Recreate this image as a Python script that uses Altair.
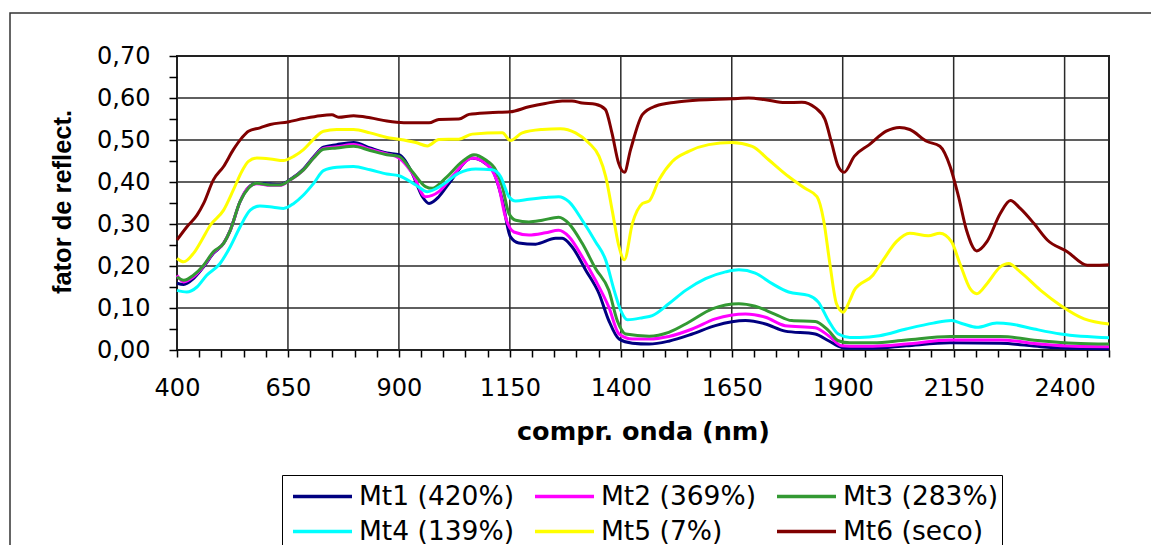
import altair as alt
import pandas as pd

# ---- data ----
series_names = ["Mt1 (420%)", "Mt2 (369%)", "Mt3 (283%)", "Mt4 (139%)", "Mt5 (7%)", "Mt6 (seco)"]
series_colors = ["#000080", "#FF00FF", "#339933", "#00FFFF", "#FFFF00", "#800000"]

wl1 = [400, 415, 437, 460, 482, 505, 520, 542, 561, 580, 610, 632, 655, 685, 708, 730, 760, 798, 835, 873,
       900, 930, 953, 968, 990, 1013, 1065, 1110, 1133, 1151, 1170, 1208, 1253, 1268, 1290, 1321, 1351, 1373, 1396, 1426,
       1464, 1508, 1561, 1613, 1681, 1726, 1770, 1838, 1868, 1898, 1916, 1968, 2043, 2142, 2255, 2346, 2421, 2500]
r1 = [0.159, 0.156, 0.170, 0.198, 0.230, 0.254, 0.285, 0.353, 0.387, 0.397, 0.395, 0.394, 0.406, 0.431, 0.460, 0.483, 0.489, 0.494, 0.481, 0.469,
      0.465, 0.421, 0.365, 0.349, 0.365, 0.397, 0.457, 0.429, 0.357, 0.270, 0.255, 0.252, 0.266, 0.266, 0.246, 0.190, 0.134, 0.070, 0.026, 0.016,
      0.014, 0.021, 0.038, 0.058, 0.070, 0.062, 0.045, 0.038, 0.022, 0.006, 0.004, 0.004, 0.010, 0.017, 0.016, 0.008, 0.004, 0.003]

wl2 = [400, 415, 437, 460, 482, 505, 520, 542, 561, 580, 610, 632, 655, 685, 708, 730, 760, 798, 835, 873,
       900, 930, 960, 990, 1020, 1065, 1103, 1125, 1140, 1159, 1193, 1230, 1260, 1283, 1313, 1343, 1373, 1396, 1426, 1464,
       1508, 1561, 1613, 1681, 1726, 1770, 1838, 1868, 1898, 1916, 1968, 2043, 2142, 2255, 2346, 2421, 2500]
r2 = [0.178, 0.162, 0.174, 0.200, 0.232, 0.254, 0.285, 0.353, 0.387, 0.396, 0.392, 0.392, 0.405, 0.429, 0.458, 0.480, 0.484, 0.489, 0.478, 0.467,
      0.457, 0.421, 0.365, 0.377, 0.413, 0.457, 0.437, 0.389, 0.317, 0.281, 0.274, 0.279, 0.285, 0.270, 0.222, 0.166, 0.102, 0.038, 0.026, 0.026,
      0.032, 0.050, 0.074, 0.086, 0.078, 0.058, 0.053, 0.034, 0.010, 0.009, 0.009, 0.014, 0.024, 0.024, 0.014, 0.009, 0.008]

wl3 = [400, 415, 437, 460, 482, 505, 520, 542, 561, 580, 610, 632, 655, 685, 708, 730, 760, 798, 835, 873,
       900, 930, 960, 975, 1005, 1043, 1069, 1095, 1118, 1133, 1148, 1163, 1193, 1223, 1260, 1283, 1313, 1343, 1373, 1392,
       1411, 1464, 1508, 1553, 1606, 1666, 1703, 1748, 1785, 1838, 1868, 1890, 1916, 1968, 2043, 2142, 2255, 2346, 2421, 2500]
r3 = [0.174, 0.166, 0.178, 0.202, 0.234, 0.254, 0.285, 0.353, 0.385, 0.397, 0.393, 0.393, 0.405, 0.429, 0.457, 0.478, 0.481, 0.485, 0.475, 0.465,
      0.461, 0.425, 0.389, 0.385, 0.409, 0.449, 0.465, 0.453, 0.429, 0.389, 0.325, 0.309, 0.305, 0.309, 0.316, 0.301, 0.254, 0.194, 0.142, 0.070,
      0.038, 0.033, 0.042, 0.066, 0.098, 0.110, 0.104, 0.085, 0.070, 0.068, 0.046, 0.022, 0.017, 0.017, 0.024, 0.032, 0.032, 0.022, 0.016, 0.014]

wl4 = [400, 422, 445, 467, 497, 520, 542, 565, 587, 617, 640, 663, 685, 708, 730, 760, 798, 835, 873, 900,
       938, 964, 998, 1035, 1073, 1110, 1129, 1148, 1163, 1193, 1230, 1260, 1283, 1313, 1343, 1366, 1385, 1400, 1415, 1449,
       1471, 1508, 1546, 1591, 1636, 1666, 1703, 1741, 1778, 1823, 1845, 1868, 1890, 1916, 1938, 1983, 2043, 2104, 2145, 2172,
       2202, 2247, 2278, 2331, 2391, 2500]
r4 = [0.142, 0.138, 0.150, 0.178, 0.206, 0.246, 0.293, 0.333, 0.343, 0.340, 0.337, 0.349, 0.369, 0.397, 0.427, 0.435, 0.437, 0.429, 0.419, 0.415,
      0.393, 0.377, 0.393, 0.421, 0.431, 0.429, 0.413, 0.365, 0.355, 0.359, 0.363, 0.365, 0.353, 0.309, 0.258, 0.214, 0.142, 0.094, 0.072, 0.077,
      0.082, 0.110, 0.142, 0.170, 0.186, 0.191, 0.183, 0.158, 0.138, 0.130, 0.114, 0.070, 0.038, 0.030, 0.030, 0.034, 0.050, 0.064, 0.070, 0.062,
      0.054, 0.064, 0.062, 0.050, 0.038, 0.029]

wl5 = [400, 415, 437, 456, 475, 505, 527, 546, 561, 580, 610, 640, 663, 685, 708, 730, 760, 798, 835, 873,
       900, 938, 964, 990, 1035, 1065, 1133, 1151, 1178, 1223, 1264, 1298, 1328, 1351, 1366, 1381, 1395, 1408, 1426, 1449,
       1464, 1486, 1516, 1553, 1598, 1650, 1696, 1733, 1778, 1815, 1842, 1857, 1871, 1886, 1901, 1916, 1926, 1968, 1991, 2021,
       2051, 2093, 2119, 2145, 2164, 2187, 2202, 2225, 2255, 2274, 2300, 2346, 2391, 2444, 2500]
r5 = [0.218, 0.210, 0.230, 0.262, 0.297, 0.333, 0.381, 0.425, 0.449, 0.457, 0.455, 0.451, 0.461, 0.477, 0.502, 0.521, 0.525, 0.525, 0.517, 0.506,
      0.502, 0.494, 0.486, 0.501, 0.502, 0.514, 0.517, 0.499, 0.517, 0.525, 0.527, 0.517, 0.493, 0.461, 0.413, 0.330, 0.250, 0.215, 0.301, 0.349,
      0.355, 0.405, 0.449, 0.473, 0.489, 0.494, 0.485, 0.453, 0.413, 0.385, 0.365, 0.309, 0.206, 0.110, 0.090, 0.118, 0.142, 0.178, 0.214, 0.258,
      0.278, 0.272, 0.278, 0.258, 0.206, 0.146, 0.134, 0.158, 0.198, 0.206, 0.186, 0.142, 0.106, 0.074, 0.062]

wl6 = [400, 422, 445, 460, 482, 505, 527, 546, 561, 587, 610, 650, 685, 723, 749, 764, 798, 835, 873, 911,
       938, 968, 990, 1035, 1058, 1103, 1150, 1193, 1230, 1268, 1290, 1313, 1343, 1365, 1380, 1395, 1408, 1422, 1449, 1479,
       1523, 1576, 1650, 1688, 1726, 1770, 1808, 1838, 1860, 1875, 1890, 1903, 1926, 1960, 1998, 2028, 2051, 2089, 2119, 2142,
       2161, 2179, 2202, 2225, 2255, 2278, 2300, 2331, 2361, 2406, 2451, 2474, 2500]
r6 = [0.262, 0.293, 0.321, 0.349, 0.405, 0.437, 0.477, 0.505, 0.521, 0.529, 0.537, 0.543, 0.551, 0.558, 0.560, 0.554, 0.558, 0.553, 0.545, 0.541,
      0.541, 0.541, 0.549, 0.550, 0.561, 0.565, 0.567, 0.579, 0.587, 0.593, 0.593, 0.588, 0.585, 0.573, 0.517, 0.445, 0.423, 0.477, 0.561, 0.581,
      0.590, 0.595, 0.598, 0.600, 0.596, 0.589, 0.590, 0.577, 0.549, 0.493, 0.437, 0.423, 0.461, 0.489, 0.521, 0.530, 0.525, 0.497, 0.485, 0.437,
      0.365, 0.285, 0.236, 0.258, 0.325, 0.356, 0.337, 0.301, 0.262, 0.234, 0.202, 0.202, 0.203]

x_ticks = [400 + 50 * i for i in range(43)]
y_ticks = [round(0.05 * i, 2) for i in range(15)]
x_grid = [650, 900, 1150, 1400, 1650, 1900, 2150, 2400]
y_grid = [0.1, 0.2, 0.3, 0.4, 0.5, 0.6]

# ---- build tables ----
rows = []
for name, wl, rv in zip(series_names, [wl1, wl2, wl3, wl4, wl5, wl6], [r1, r2, r3, r4, r5, r6]):
    for w, v in zip(wl, rv):
        rows.append({"serie": name, "wl": w, "r": v})
df = pd.DataFrame(rows)
gx_df = pd.DataFrame({"gx": x_grid})
gy_df = pd.DataFrame({"gy": y_grid})

TICK_FONT = "DejaVu Sans"
xscale = alt.Scale(domain=[400, 2500], nice=False, zero=False)
yscale = alt.Scale(domain=[0, 0.7], nice=False, zero=True)

xaxis = alt.Axis(
    values=x_ticks, grid=False, domain=False,
    labelExpr="((datum.value - 400) % 250 == 0) ? format(datum.value, 'd') : ''",
    labelFont=TICK_FONT, labelFontSize=24, labelColor="black",
    labelBaseline="alphabetic", labelPadding=38, labelFlush=False, labelOverlap=False,
    tickSize=7, tickColor="black", tickWidth=1.5,
    title="compr. onda (nm)", titleFont=TICK_FONT, titleFontSize=25.5, titleFontWeight="bold",
    titleColor="black", titleX=466, titleY=89, titleBaseline="alphabetic", titleAlign="center",
)
yaxis = alt.Axis(
    values=y_ticks, grid=False, domain=False,
    labelExpr="(round(datum.value * 100) % 10 == 0) ? replace(format(datum.value, '.2f'), '.', ',') : ''",
    labelFont=TICK_FONT, labelFontSize=24, labelColor="black", labelPadding=19, labelOverlap=False,
    labelFlush=False,
    tickSize=8, tickColor="black", tickWidth=1.5,
    title="fator de reflect.", titleFont="Liberation Sans", titleFontSize=25.5, titleFontWeight="bold",
    titleColor="black", titleX=-107, titleY=145.5, titleBaseline="alphabetic", titleAlign="center",
)

frame = alt.Chart(alt.Data(values=[{"k": 1}])).mark_rect(
    fillOpacity=0, stroke="#333333", strokeWidth=1.5, clip=False
).encode(x=alt.value(-167), x2=alt.value(1100), y=alt.value(-43), y2=alt.value(700))

vgrid = alt.Chart(gx_df).mark_rule(color="#2a2a2a", strokeWidth=1.5).encode(
    x=alt.X("gx:Q", scale=xscale, axis=xaxis)
)
hgrid = alt.Chart(gy_df).mark_rule(color="#2a2a2a", strokeWidth=1.5).encode(
    y=alt.Y("gy:Q", scale=yscale, axis=yaxis)
)

lines = alt.Chart(df).mark_line(strokeWidth=3, interpolate="monotone").encode(
    x=alt.X("wl:Q", scale=xscale, axis=xaxis),
    y=alt.Y("r:Q", scale=yscale, axis=yaxis),
    color=alt.Color(
        "serie:N",
        scale=alt.Scale(domain=series_names, range=series_colors),
        sort=series_names,
        legend=alt.Legend(
            orient="none", legendX=105, legendY=419, columns=3, direction="horizontal", title=None,
            symbolType="stroke", symbolSize=3481, symbolStrokeWidth=3.5, symbolOffset=5,
            labelOffset=5, labelFont=TICK_FONT, labelFontSize=26.5, labelColor="black", labelLimit=400,
            strokeColor="black", fillColor="white", padding=4, columnPadding=14, rowPadding=0,
            clipHeight=35,
        ),
    ),
)

chart = alt.layer(frame, vgrid, hgrid, lines).properties(
    width=932, height=294,
    autosize=alt.AutoSizeParams(type="none"),
    padding={"left": 169, "top": 48, "right": 42, "bottom": 195},
    background="white",
).configure_view(stroke="#222222", strokeWidth=2)

chart.save("out.html", embed_options={"renderer": "svg", "actions": False})
